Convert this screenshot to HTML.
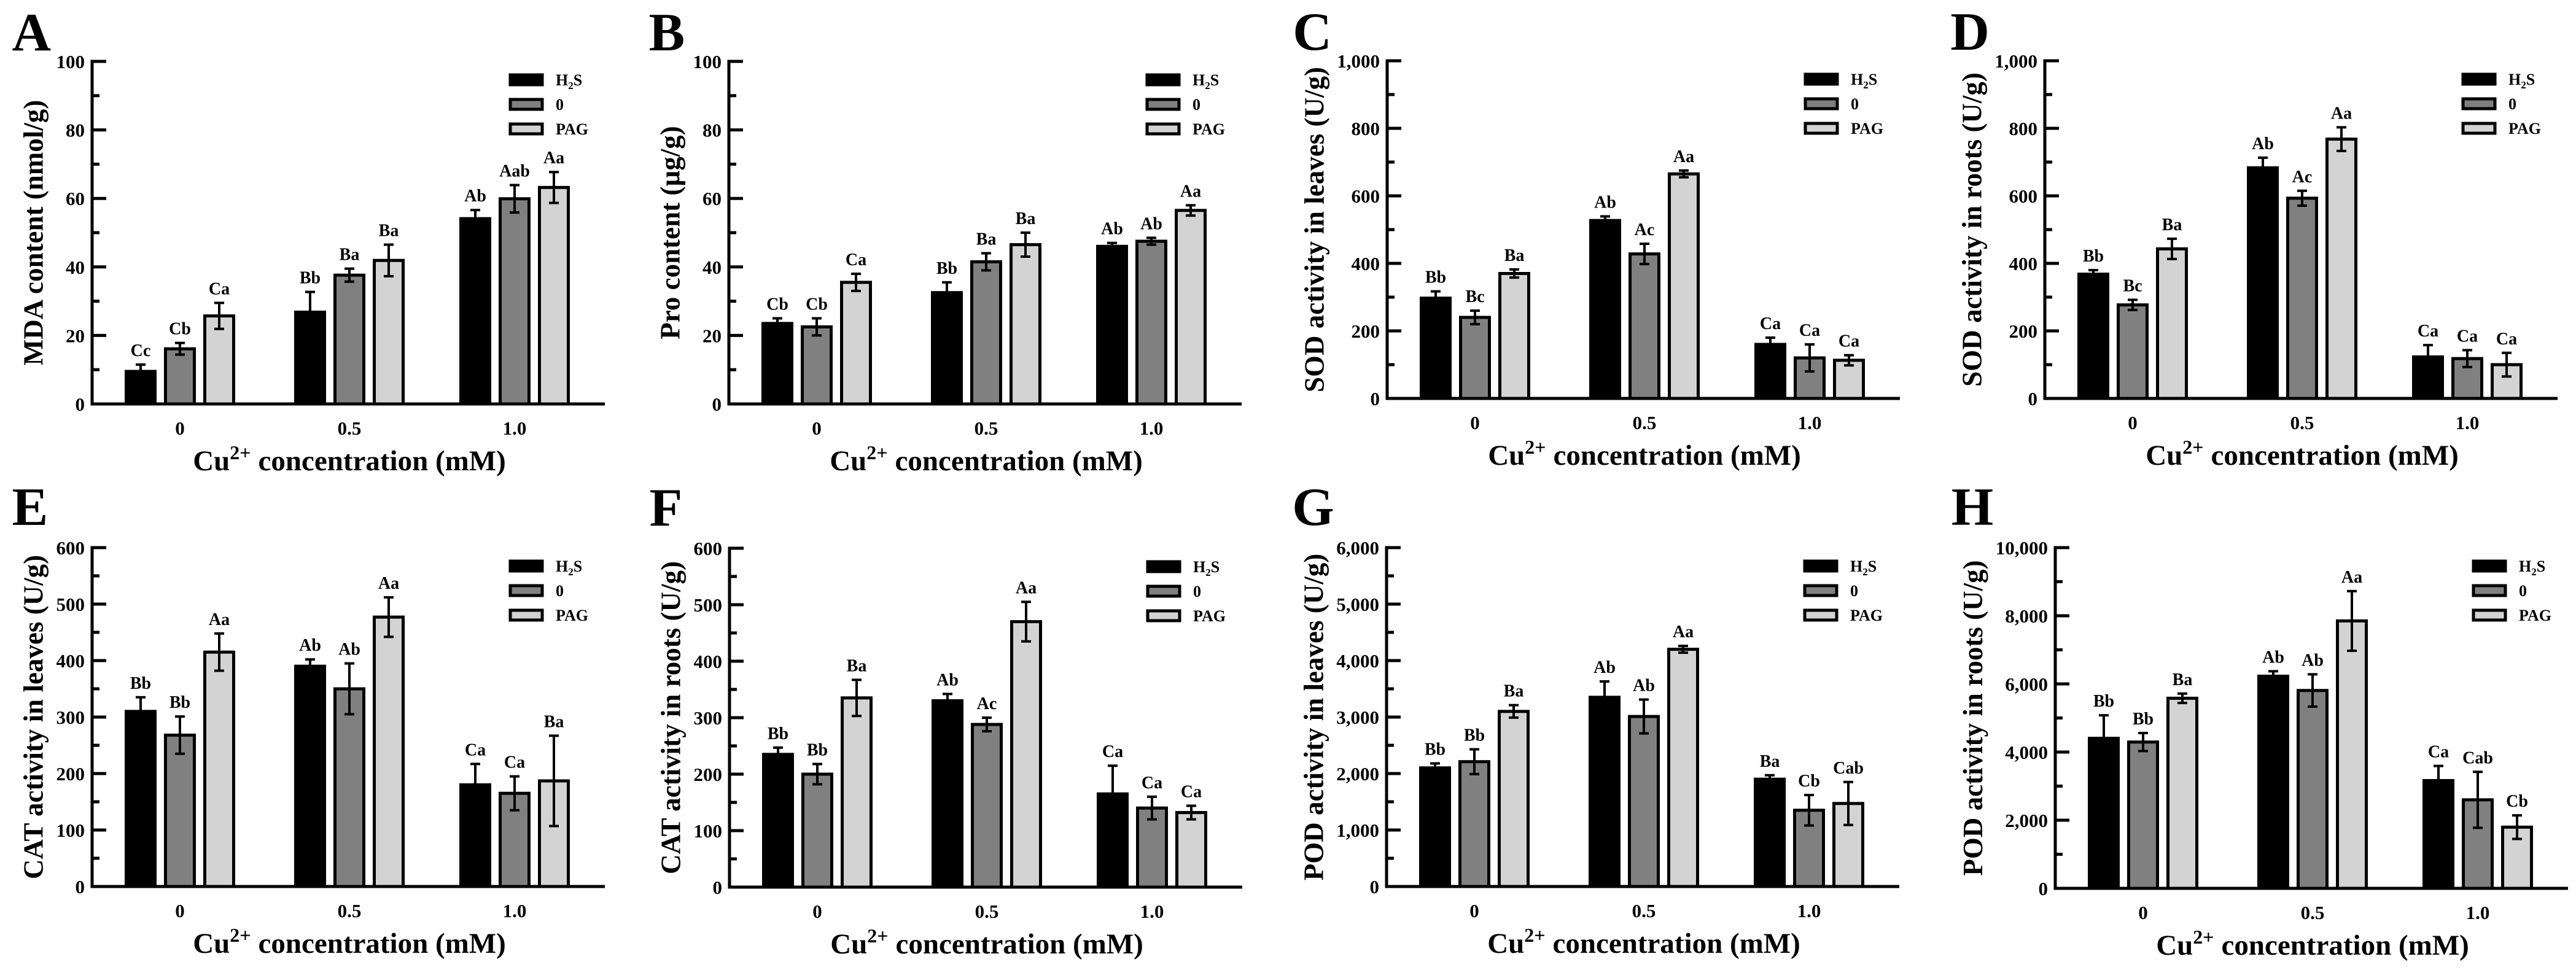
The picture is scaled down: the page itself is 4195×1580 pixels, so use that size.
<!DOCTYPE html>
<html><head><meta charset="utf-8"><style>
html,body{margin:0;padding:0;background:#fff;}
svg{display:block;}
svg text{font-family:"Liberation Serif",serif;font-weight:bold;}
</style></head><body>
<svg id="fig" width="4195" height="1580" viewBox="0 0 4195 1580" xmlns="http://www.w3.org/2000/svg"></svg>
<script>
const categories = ['0', '0.5', '1.0'];
const seriesNames = ['H2S', '0', 'PAG'];
// values ordered: cat0 [H2S,0,PAG], cat0.5 [...], cat1.0 [...]
const mdaMeans = [9.5, 16.1, 25.7, 26.8, 37.6, 41.9, 54.1, 59.9, 63.2];
const mdaErrs = [2, 1.7, 3.8, 5.9, 1.9, 4.6, 2.5, 4, 4.5];
const mdaLetters = ['Cc','Cb','Ca','Bb','Ba','Ba','Ab','Aab','Aa'];
const proMeans = [23.5, 22.5, 35.5, 32.5, 41.5, 46.5, 46, 47.5, 56.5];
const proErrs = [1.5, 2.5, 2.5, 3, 2.5, 3.5, 1, 1, 1.5];
const proLetters = ['Cb','Cb','Ca','Bb','Ba','Ba','Ab','Ab','Aa'];
const sodLeafMeans = [297, 240, 370, 527, 428, 665, 160, 120, 113];
const sodLeafErrs = [20, 20, 12, 12, 30, 10, 20, 40, 15];
const sodLeafLetters = ['Bb','Bc','Ba','Ab','Ac','Aa','Ca','Ca','Ca'];
const sodRootMeans = [368, 277, 443, 683, 593, 768, 123, 118, 100];
const sodRootErrs = [12, 15, 30, 30, 22, 35, 35, 25, 35];
const sodRootLetters = ['Bb','Bc','Ba','Ab','Ac','Aa','Ca','Ca','Ca'];
const catLeafMeans = [310, 268, 415, 390, 350, 477, 180, 165, 187];
const catLeafErrs = [25, 33, 33, 12, 45, 35, 37, 30, 80];
const catLeafLetters = ['Bb','Bb','Aa','Ab','Ab','Aa','Ca','Ca','Ba'];
const catRootMeans = [235, 200, 335, 330, 288, 470, 165, 140, 132];
const catRootErrs = [12, 18, 32, 12, 12, 35, 50, 20, 12];
const catRootLetters = ['Bb','Bb','Ba','Ab','Ac','Aa','Ca','Ca','Ca'];
const podLeafMeans = [2100, 2210, 3100, 3350, 3010, 4200, 1900, 1350, 1470];
const podLeafErrs = [80, 220, 110, 280, 300, 60, 70, 270, 380];
const podLeafLetters = ['Bb','Bb','Ba','Ab','Ab','Aa','Ba','Cb','Cab'];
const podRootMeans = [4403, 4294, 5579, 6226, 5807, 7849, 3163, 2598, 1796];
const podRootErrs = [675, 264, 137, 146, 474, 875, 429, 820, 346];
const podRootLetters = ['Bb','Bb','Ba','Ab','Ab','Aa','Ca','Cab','Cb'];
const ticksA = [0, 20, 40, 60, 80, 100];
const ticksC = [0, 200, 400, 600, 800, 1000];
const ticksE = [0, 100, 200, 300, 400, 500, 600];
const ticksG = [0, 1000, 2000, 3000, 4000, 5000, 6000];
const ticksH = [0, 2000, 4000, 6000, 8000, 10000];

const NS = 'http://www.w3.org/2000/svg';
const svg = document.getElementById('fig');
const fills = ['#000000', '#808080', '#d3d3d3'];
function mk(tag, attrs, parent) {
  const e = document.createElementNS(NS, tag);
  for (const k in attrs) e.setAttribute(k, attrs[k]);
  (parent || svg).appendChild(e);
  return e;
}
function fmt(v) { return v >= 1000 ? v.toLocaleString('en-US') : String(v); }
// pieces: [text, fontSize, dy, gapBefore]
function pieces(parent, x, yb, list, name) {
  let cx = x;
  list.forEach(([txt, fs, dy, gap]) => {
    cx += gap || 0;
    const t = mk('text', {x: cx, y: yb + dy, 'font-size': fs}, parent);
    t.textContent = txt;
    
    
    cx += t.getComputedTextLength();
  });
  return cx - x;
}

const panels = [
  {id:'A', ax:150, top:100, base:658, max:100, ticks:ticksA, minor:10, title:'MDA content (nmol/g)', m:mdaMeans, e:mdaErrs, l:mdaLetters},
  {id:'B', ax:1187, top:100, base:658, max:100, ticks:ticksA, minor:10, title:'Pro content (\u00b5g/g)', m:proMeans, e:proErrs, l:proLetters},
  {id:'C', ax:2259, top:99, base:649, max:1000, ticks:ticksC, minor:100, title:'SOD activity in leaves (U/g)', m:sodLeafMeans, e:sodLeafErrs, l:sodLeafLetters},
  {id:'D', ax:3330, top:99, base:649, max:1000, ticks:ticksC, minor:100, title:'SOD activity in roots (U/g)', m:sodRootMeans, e:sodRootErrs, l:sodRootLetters},
  {id:'E', ax:150, top:892, base:1444, max:600, ticks:ticksE, minor:50, title:'CAT activity in leaves (U/g)', m:catLeafMeans, e:catLeafErrs, l:catLeafLetters},
  {id:'F', ax:1188, top:893, base:1445, max:600, ticks:ticksE, minor:50, title:'CAT activity in roots (U/g)', m:catRootMeans, e:catRootErrs, l:catRootLetters},
  {id:'G', ax:2258, top:892, base:1444, max:6000, ticks:ticksG, minor:500, title:'POD activity in leaves (U/g)', m:podLeafMeans, e:podLeafErrs, l:podLeafLetters},
  {id:'H', ax:3347, top:892, base:1447, max:10000, ticks:ticksH, minor:1000, title:'POD activity in roots (U/g)', m:podRootMeans, e:podRootErrs, l:podRootLetters}
];
const L = 835;
const groupOffsets = [143, 419, 688];

panels.forEach(p => {
  const g = mk('g', {});
  
  
  const y = v => p.base - v / p.max * (p.base - p.top);
  categories.forEach((c, ci) => {
    const cx = p.ax + groupOffsets[ci];
    seriesNames.forEach((s, si) => {
      const i = ci * 3 + si;
      const bx = cx + (si - 1) * 64;
      const yt = y(p.m[i]);
      const r = mk('rect', {x: bx - 23.5, y: yt, width: 47, height: p.base - yt, fill: fills[si], stroke: '#000', 'stroke-width': 5}, g);
      
      
      const yh = y(p.m[i] + p.e[i]), yl = y(p.m[i] - p.e[i]);
      const eb = mk('path', {d: `M${bx} ${yl}V${yh}M${bx-8} ${yh}H${bx+8}M${bx-8} ${yl}H${bx+8}`, stroke: '#000', 'stroke-width': 4, fill: 'none'}, g);
      
      
      const t = mk('text', {x: bx, y: yh - 14, 'text-anchor': 'middle', 'font-size': 28}, g);
      t.textContent = p.l[i];
      
      
    });
    const xt = mk('text', {x: cx, y: p.base + 50, 'text-anchor': 'middle', 'font-size': 31}, g);
    xt.textContent = c;
    
    
  });
  const axis = mk('path', {d: `M${p.ax} ${p.top-2.5}V${p.base}H${p.ax+L}`, stroke: '#000', 'stroke-width': 5, fill: 'none'}, g);
  
  
  let maxW = 0;
  for (let v = 0; v <= p.max + 1e-9; v += p.minor) {
    const major = p.ticks.includes(v);
    const tk = mk('line', {x1: p.ax, x2: p.ax + (major ? 23 : 12), y1: y(v), y2: y(v), stroke: '#000', 'stroke-width': 5}, g);
    
    
  }
  p.ticks.forEach(v => {
    const t = mk('text', {x: p.ax - 12, y: y(v) + 11, 'text-anchor': 'end', 'font-size': 31}, g);
    t.textContent = fmt(v);
    
    
    maxW = Math.max(maxW, t.getComputedTextLength());
  });
  const labelLeft = p.ax - 12 - maxW;
  const ty = (p.top + p.base) / 2, tx = labelLeft - 37;
  const yt = mk('text', {x: tx, y: ty, transform: `rotate(-90 ${tx} ${ty})`, 'text-anchor': 'middle', 'dominant-baseline': 'central', 'font-size': 45}, g);
  yt.textContent = p.title;
  
  
  const xg = mk('g', {}, g);
  
  
  const w = pieces(xg, 0, p.base + 108, [['Cu', 47, 0, 0], ['2+', 32, -18, 0], ['concentration (mM)', 47, 0, 12]], 'x-axis-title-part');
  xg.setAttribute('transform', `translate(${p.ax + 419 - w / 2} 0)`);
  const letter = mk('text', {x: labelLeft - 72, y: p.top - 18 - (p.top > 500 ? 19 : 0), 'font-size': 88}, g);
  letter.textContent = p.id;
  
  
  seriesNames.forEach((s, si) => {
    const ly = p.top + 30 + si * 40;
    const box = mk('rect', {x: p.ax + 681, y: ly - 8, width: 52, height: 16, fill: fills[si], stroke: '#000', 'stroke-width': 5}, g);
    
    
    if (si === 0) {
      pieces(g, p.ax + 755, ly + 9, [['H', 26, 0, 0], ['2', 17, 6, 0], ['S', 26, 0, 0]], 'legend-label-h2s');
    } else {
      const lt = mk('text', {x: p.ax + 755, y: ly + 9, 'font-size': 26}, g);
      lt.textContent = s;
      
      
    }
  });
});
</script>
</body></html>
